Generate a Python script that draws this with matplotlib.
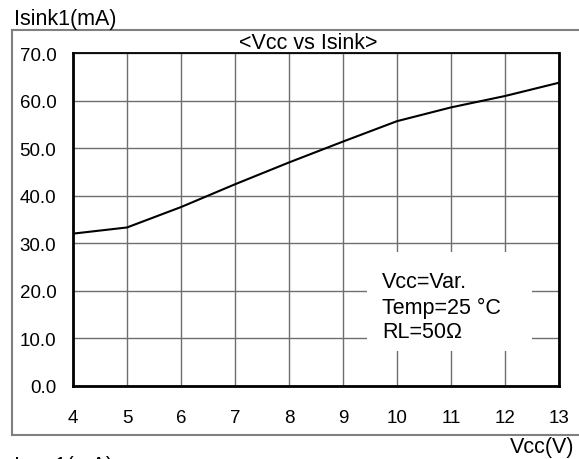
import matplotlib
matplotlib.use("Agg")
import matplotlib.pyplot as plt
from matplotlib.lines import Line2D
from matplotlib.patches import Rectangle

vcc = [4, 5, 6, 7, 8, 9, 10, 11, 12, 13]
isink = [32.0, 33.3, 37.6, 42.4, 47.0, 51.4, 55.7, 58.6, 61.0, 63.8]
x_ticks = [4, 5, 6, 7, 8, 9, 10, 11, 12, 13]
y_ticks = [0, 10, 20, 30, 40, 50, 60, 70]

plt.rcParams['font.family'] = ['Liberation Sans', 'DejaVu Sans']

W, H = 579, 460
fig = plt.figure(figsize=(W / 100, H / 100), dpi=100)

def fx(px):
    return px / W

def fy(py):
    return 1 - py / H

ax = fig.add_axes([fx(73), fy(386.5), fx(559) - fx(73), fy(54.3) - fy(386.5)])
ax.plot(vcc, isink, color='black', lw=1.5, zorder=3)
ax.set_xlim(4, 13)
ax.set_ylim(0, 70)
ax.set_xticks(x_ticks)
ax.set_yticks(y_ticks)
ax.set_yticklabels([f"{v:.1f}" for v in y_ticks])
ax.tick_params(axis='both', length=0, labelsize=13.5)
ax.tick_params(axis='x', pad=17)
ax.tick_params(axis='y', pad=12)
ax.grid(True, color='#6e6e6e', lw=1.0)
ax.set_axisbelow(True)
for s in ['left', 'bottom', 'right']:
    ax.spines[s].set_linewidth(2.0)
ax.spines['top'].set_linewidth(1.3)

# white box behind annotation
x0, x1 = 367, 532
y0, y1 = 253, 352
ax.add_patch(Rectangle((fx(x0), fy(y1)), fx(x1) - fx(x0), fy(y0) - fy(y1),
                       transform=fig.transFigure, facecolor='white',
                       edgecolor='none', zorder=2))
fs = 15.5
fig.text(fx(382), fy(282), "Vcc=Var.", fontsize=fs, va='center', ha='left', zorder=4)
fig.text(fx(382), fy(308), "Temp=25 \u00b0C", fontsize=fs, va='center', ha='left', zorder=4)
fig.text(fx(382), fy(333), "RL=50\u03a9", fontsize=fs, va='center', ha='left', zorder=4)

fig.text(fx(308), fy(54), "<Vcc vs Isink>", fontsize=fs, ha='center', va='bottom')
fig.text(fx(14), fy(20), "Isink1(mA)", fontsize=fs, ha='left', va='center')
fig.text(fx(574), fy(448), "Vcc(V)", fontsize=fs, ha='right', va='center')
fig.text(fx(14), fy(467), "Isou1(mA)", fontsize=fs, ha='left', va='center')

gray = '#808080'
fig.add_artist(Line2D([fx(12), 1], [fy(31), fy(31)], color=gray, lw=1.5))
fig.add_artist(Line2D([fx(12), fx(12)], [fy(31), fy(436)], color=gray, lw=1.5))
fig.add_artist(Line2D([fx(12), 1], [fy(436), fy(436)], color=gray, lw=1.5))

fig.savefig("out.png", dpi=100)
